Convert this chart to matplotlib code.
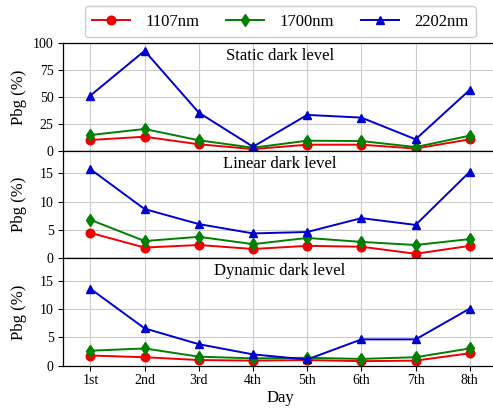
import matplotlib.pyplot as plt
import numpy as np

plt.rcParams.update({
    "font.family": "Liberation Serif",
    "font.size": 10,
    "axes.linewidth": 0.9,
})

days = ["1st", "2nd", "3rd", "4th", "5th", "6th", "7th", "8th"]
wavelengths = ["1107nm", "1700nm", "2202nm"]

# Static dark level
static_1107 = [10.0, 13.0, 6.0, 1.5, 5.6, 5.6, 2.0, 10.6]
static_1700 = [14.6, 20.2, 9.7, 2.8, 9.3, 9.0, 3.4, 14.0]
static_2202 = [51.3, 92.9, 35.4, 3.7, 33.3, 30.8, 10.6, 56.6]

# Linear dark level
linear_1107 = [4.5, 1.9, 2.35, 1.65, 2.2, 2.05, 0.8, 2.2]
linear_1700 = [6.8, 3.05, 3.8, 2.5, 3.6, 2.9, 2.35, 3.4]
linear_2202 = [15.75, 8.7, 6.05, 4.4, 4.65, 7.1, 5.9, 15.3]

# Dynamic dark level
dynamic_1107 = [1.8, 1.5, 1.0, 0.9, 1.0, 0.8, 0.9, 2.2]
dynamic_1700 = [2.65, 3.05, 1.6, 1.3, 1.4, 1.2, 1.5, 3.05]
dynamic_2202 = [13.6, 6.6, 3.8, 2.0, 1.1, 4.65, 4.65, 10.1]

panels = [
    ("Static dark level", [static_1107, static_1700, static_2202], (0, 100), [0, 25, 50, 75, 100]),
    ("Linear dark level", [linear_1107, linear_1700, linear_2202], (0, 19), [0, 5, 10, 15]),
    ("Dynamic dark level", [dynamic_1107, dynamic_1700, dynamic_2202], (0, 19), [0, 5, 10, 15]),
]

colors = ["#ee0000", "#008000", "#0000cc"]
markers = ["o", "d", "^"]

fig = plt.figure(figsize=(4.93, 4.11), dpi=100)
x = np.arange(1, len(days) + 1)

left, width, height = 0.1284, 0.8795, 0.2616
bottoms = [0.6333, 0.3715, 0.1102]

axes = []
for i, (title, series, ylim, yticks) in enumerate(panels):
    ax = fig.add_axes([left, bottoms[i], width, height], sharex=axes[0] if axes else None)
    axes.append(ax)
    for vals, c, m, lab in zip(series, colors, markers, wavelengths):
        ax.plot(x, vals, color=c, marker=m, markersize=6.2, linewidth=1.4, label=lab)
    ax.set_ylim(*ylim)
    ax.set_yticks(yticks)
    ax.set_xlim(0.5, 8.5)
    ax.grid(True, color="#cccccc", linewidth=0.8)
    ax.set_axisbelow(True)
    ax.set_ylabel("Pbg (%)", fontsize=12)
    ax.text(0.5, 0.955, title, transform=ax.transAxes, ha="center", va="top", fontsize=12)
    if i < 2:
        ax.tick_params(labelbottom=False)

axes[-1].set_xticks(x)
axes[-1].set_xticklabels(days)
axes[-1].tick_params(axis="x", pad=2.5)
axes[-1].set_xlabel("Day", fontsize=12, labelpad=2)

for ax in axes:
    ax.yaxis.set_label_coords(-0.083, 0.5)

axes[0].legend(loc="lower center", bbox_to_anchor=(0.5, 1.0), ncol=3, fontsize=12,
               columnspacing=1.6, handlelength=2.3, handletextpad=0.9, borderpad=0.45,
               borderaxespad=0.35, framealpha=1, edgecolor="#cccccc")

fig.savefig("out.png", dpi=100)
